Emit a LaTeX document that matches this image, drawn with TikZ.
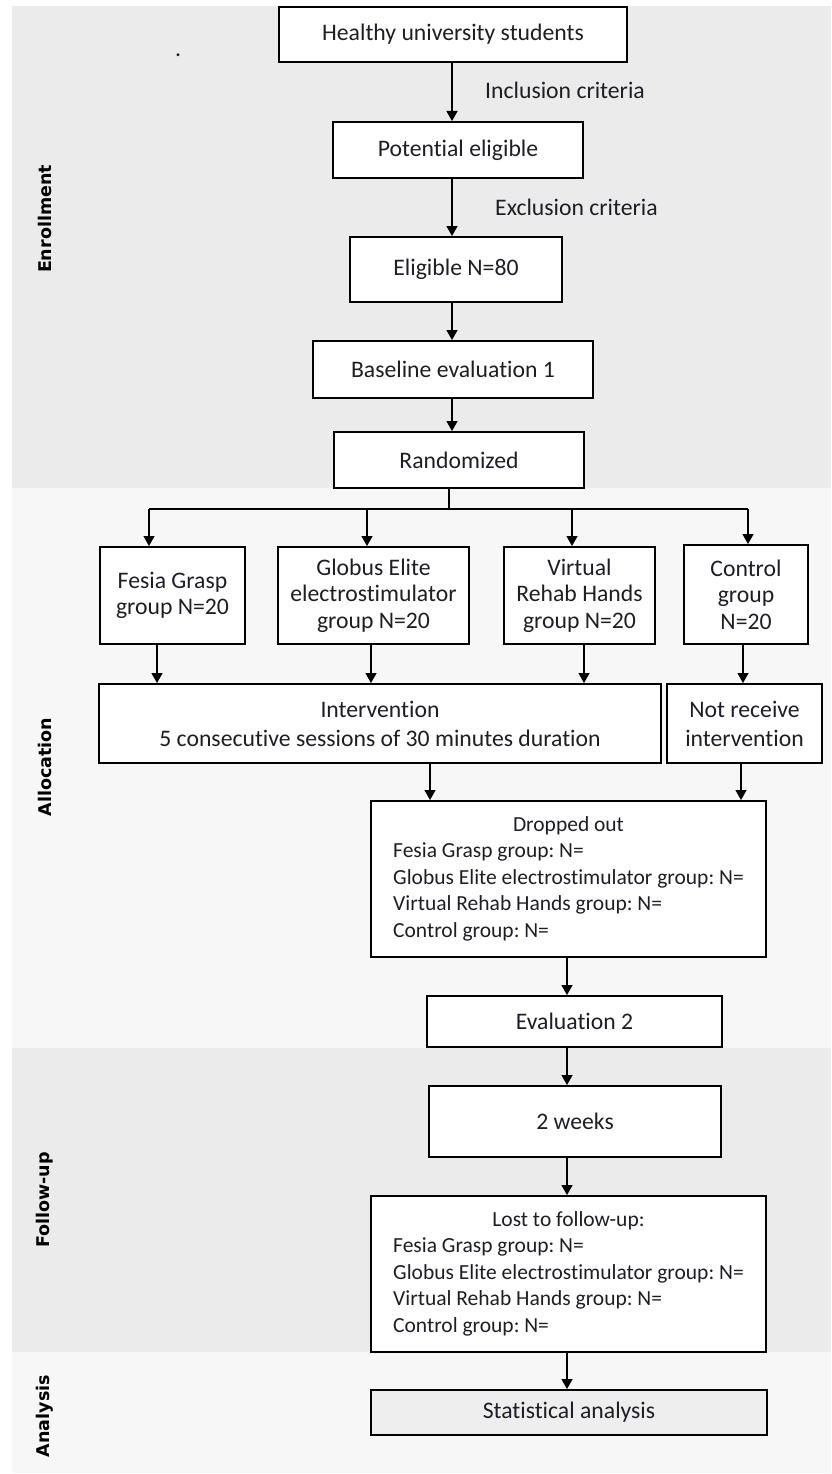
\documentclass[tikz,border=0pt]{standalone}
\usepackage{fontspec}
\setmainfont[Ligatures={NoCommon}]{Carlito}
\newfontfamily\sidefont{DejaVu Sans}
\usetikzlibrary{arrows.meta}
\definecolor{bandA}{HTML}{EBEBEB}
\definecolor{bandB}{HTML}{F7F7F7}
\definecolor{statfill}{HTML}{EEEEEE}
\definecolor{txt}{HTML}{1E1E26}
\frenchspacing
\tikzset{
  box/.style={draw=black, line width=2pt, fill=white, inner sep=0pt, text=txt, align=center,
    font=\fontsize{23.7}{26.5}\selectfont},
  listbox/.style={box, font=\fontsize{21.5}{26.5}\selectfont},
  lbl/.style={inner sep=0pt, text=txt, font=\fontsize{23.7}{26.5}\selectfont},
  side/.style={rotate=90, inner sep=0pt, text=black, font=\sidefont\bfseries\fontsize{17.5}{20}\selectfont},
  arr/.style={draw=black, line width=1.3pt, -{Triangle[length=10pt,width=11pt]}},
  ln/.style={draw=black, line width=1.3pt}
}
\begin{document}
\begin{tikzpicture}[x=1pt,y=-1pt]
\useasboundingbox (0,0) rectangle (831,1474);
% bands
\fill[bandA] (12,6) rectangle (831,488);
\fill[bandB] (12,488) rectangle (831,1048);
\fill[bandA] (12,1048) rectangle (831,1352);
\fill[bandB] (12,1352) rectangle (831,1473);
% side labels
\node[side] (senr) at (45,219) {Enrollment};
\node[side] (sall) at (45,767) {Allocation};
\node[side] (sfol) at (45,1200) {Follow-up};
\node[side] (sana) at (45,1416) {Analysis};
% stray dot
\node[lbl, anchor=base] (dot) at (178,57) {.};
% enrollment boxes
\node[box, minimum width=348pt, minimum height=55pt] (healthy) at (453,34.5) {Healthy university students};
\node[box, minimum width=250pt, minimum height=56pt] (potential) at (458,150) {Potential eligible};
\node[box, minimum width=212pt, minimum height=65pt] (eligible) at (456,269.5) {Eligible N=80};
\node[box, minimum width=280pt, minimum height=57pt] (baseline) at (453,369.5) {Baseline evaluation 1};
\node[box, minimum width=250pt, minimum height=56pt] (random) at (459,460) {Randomized};
\node[lbl, anchor=west] (incl) at (485,90) {Inclusion criteria};
\node[lbl, anchor=west] (excl) at (495,207) {Exclusion criteria};
% allocation boxes
\node[box, minimum width=145pt, minimum height=97pt] (fesia) at (172.5,595.5) {Fesia Grasp\\group N=20};
\node[box, minimum width=191pt, minimum height=97pt] (globus) at (373.5,595.5) {Globus Elite\\electrostimulator\\group N=20};
\node[box, minimum width=151pt, minimum height=97pt] (virtual) at (579.5,595.5) {Virtual\\Rehab Hands\\group N=20};
\node[box, minimum width=124pt, minimum height=99pt] (control) at (746,594.5) {Control\\group\\N=20};
\node[box, minimum width=562pt, minimum height=79pt, font=\fontsize{23.7}{29}\selectfont] (interv) at (380,723.5) {Intervention\\5 consecutive sessions of 30 minutes duration};
\node[box, minimum width=155pt, minimum height=79pt, font=\fontsize{23.7}{29}\selectfont] (notrec) at (744.5,723.5) {Not receive\\intervention};
\node[listbox, minimum width=395pt, minimum height=156pt] (dropped) at (568.5,879) {\begin{tabular}{@{}l@{}}\multicolumn{1}{c}{Dropped out}\\Fesia Grasp group: N=\\Globus Elite electrostimulator group: N=\\Virtual Rehab Hands group: N=\\Control group: N=\end{tabular}};
\node[box, minimum width=295pt, minimum height=51pt] (eval2) at (574.5,1021.5) {Evaluation 2};
% follow-up
\node[box, minimum width=292pt, minimum height=71pt] (weeks) at (575,1121.5) {2 weeks};
\node[listbox, minimum width=395pt, minimum height=156pt] (lost) at (568.5,1274) {\begin{tabular}{@{}l@{}}\multicolumn{1}{c}{Lost to follow-up:}\\Fesia Grasp group: N=\\Globus Elite electrostimulator group: N=\\Virtual Rehab Hands group: N=\\Control group: N=\end{tabular}};
% analysis
\node[box, fill=statfill, minimum width=396pt, minimum height=45pt] (stat) at (569,1412.5) {Statistical analysis};
% column coordinates
\coordinate (c1) at (452,0);
\coordinate (split) at (449,509);
\coordinate (barL) at (149,509);
\coordinate (barG) at (367,509);
\coordinate (barV) at (572,509);
\coordinate (barR) at (748,509);
\coordinate (xf) at (157,0);
\coordinate (xg) at (371,0);
\coordinate (xv) at (584,0);
\coordinate (xc) at (743,0);
\coordinate (xi) at (430,0);
\coordinate (xn) at (741,0);
\coordinate (xd) at (567,0);
% connectors
\draw[arr] (healthy.south -| c1) -- (potential.north -| c1);
\draw[arr] (potential.south -| c1) -- (eligible.north -| c1);
\draw[arr] (eligible.south -| c1) -- (baseline.north -| c1);
\draw[arr] (baseline.south -| c1) -- (random.north -| c1);
\draw[ln] (random.south -| split) -- (split);
\draw[ln] (barL) -- (barR);
\draw[arr] (barL) -- (barL |- fesia.north);
\draw[arr] (barG) -- (barG |- globus.north);
\draw[arr] (barV) -- (barV |- virtual.north);
\draw[arr] (barR) -- (barR |- control.north);
\draw[arr] (fesia.south -| xf) -- (interv.north -| xf);
\draw[arr] (globus.south -| xg) -- (interv.north -| xg);
\draw[arr] (virtual.south -| xv) -- (interv.north -| xv);
\draw[arr] (control.south -| xc) -- (notrec.north -| xc);
\draw[arr] (interv.south -| xi) -- (dropped.north -| xi);
\draw[arr] (notrec.south -| xn) -- (dropped.north -| xn);
\draw[arr] (dropped.south -| xd) -- (eval2.north -| xd);
\draw[arr] (eval2.south -| xd) -- (weeks.north -| xd);
\draw[arr] (weeks.south -| xd) -- (lost.north -| xd);
\draw[arr] (lost.south -| xd) -- (stat.north -| xd);
\end{tikzpicture}
\end{document}
